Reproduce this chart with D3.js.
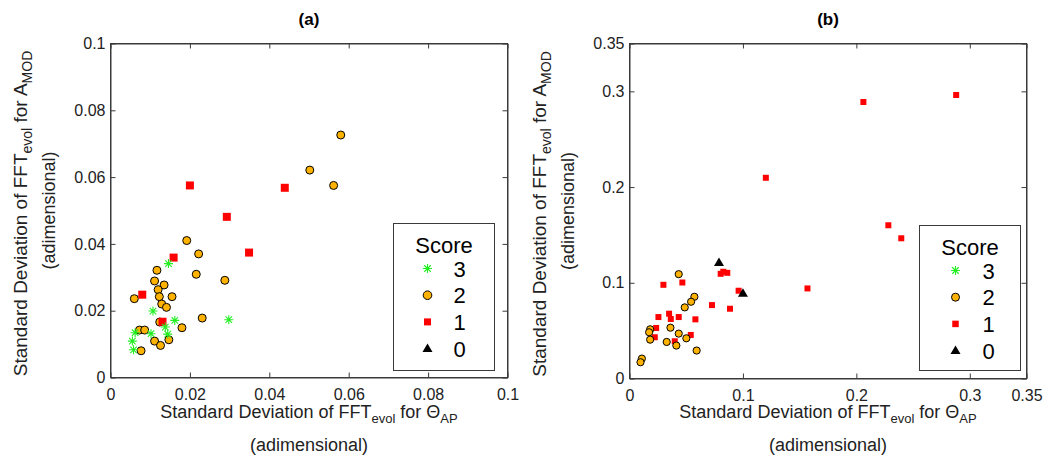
<!DOCTYPE html>
<html>
<head>
<meta charset="utf-8">
<script src="https://cdn.jsdelivr.net/npm/d3@7"></script>
<style>
  html, body { margin: 0; padding: 0; background: #fff; }
  svg { display: block; font-family: Arial, "Liberation Sans", Helvetica, sans-serif; }
</style>
</head>
<body>
<svg id="chart" width="1049" height="459"></svg>
<script>
// ---------------- DATA ----------------
// Panel (a)
const aTicks = [0, 0.02, 0.04, 0.06, 0.08, 0.1];
const aTickLabels = ["0", "0.02", "0.04", "0.06", "0.08", "0.1"];
const aScore3 = [[0.0146,0.0341],[0.0107,0.0199],[0.0162,0.0171],[0.0298,0.0173],[0.0138,0.0151],
                 [0.0062,0.0134],[0.0102,0.0131],[0.0144,0.0130],[0.0055,0.0109],[0.0058,0.0083]];
const aScore2 = [[0.0580,0.0726],[0.0502,0.0621],[0.0562,0.0575],[0.0192,0.0410],[0.0222,0.0370],
                 [0.0216,0.0309],[0.0288,0.0291],[0.0117,0.0321],[0.0111,0.0289],[0.0135,0.0277],
                 [0.0120,0.0263],[0.0123,0.0242],[0.0155,0.0242],[0.0060,0.0236],[0.0129,0.0220],
                 [0.0141,0.0210],[0.0231,0.0178],[0.0180,0.0149],[0.0073,0.0142],[0.0086,0.0142],
                 [0.0124,0.0166],[0.0111,0.0109],[0.0126,0.0096],[0.0147,0.0113],[0.0077,0.0080]];
const aScore1 = [[0.0200,0.0575],[0.0439,0.0568],[0.0293,0.0481],[0.0349,0.0374],[0.0159,0.0359],
                 [0.0080,0.0248],[0.0131,0.0167]];
const aScore0 = [];

// Panel (b)
const bTicks = [0, 0.1, 0.2, 0.3, 0.35];
const bTickLabels = ["0", "0.1", "0.2", "0.3", "0.35"];
const bScore3 = [];
const bScore2 = [[0.0434,0.1090],[0.0572,0.0854],[0.0543,0.0802],[0.0487,0.0743],[0.0361,0.0531],
                 [0.0434,0.0469],[0.0501,0.0420],[0.0328,0.0382],[0.0413,0.0344],[0.0592,0.0292],
                 [0.0182,0.0514],[0.0173,0.0483],[0.0182,0.0406],[0.0109,0.0208],[0.0097,0.0170]];
const bScore1 = [[0.2062,0.2889],[0.2880,0.2962],[0.1202,0.2097],[0.2282,0.1601],[0.2396,0.1465],
                 [0.1569,0.0941],[0.0299,0.0979],[0.0466,0.1003],[0.0804,0.1094],[0.0827,0.1115],
                 [0.0862,0.1104],[0.0962,0.0917],[0.0727,0.0767],[0.0886,0.0729],[0.0255,0.0642],
                 [0.0349,0.0677],[0.0364,0.0622],[0.0434,0.0642],[0.0581,0.0618],[0.0235,0.0528],
                 [0.0223,0.0431],[0.0540,0.0455],[0.0399,0.0389]];
const bScore0 = [[0.0789,0.1212],[0.1000,0.0889]];

const legendTitle = "Score";
const legendLabels = ["3", "2", "1", "0"];
const panelTitles = ["(a)", "(b)"];

// ---------------- STYLE ----------------
const C = { star: "#22ee22", circle: "#FFB300", square: "#FF0000", tri: "#000000",
            axis: "#3a3a3a", text: "#222222" };

const svg = d3.select("#chart");

function starPath(r) {
  const d = r * 0.72;
  return `M${-r},0L${r},0M0,${-r}L0,${r}M${-d},${-d}L${d},${d}M${-d},${d}L${d},${-d}`;
}
function triPath(w, h) {
  return `M0,${-h * 0.6}L${w / 2},${h * 0.4}L${-w / 2},${h * 0.4}Z`;
}

function drawMarks(g, type, data, x, y, sz) {
  const sel = g.append("g").selectAll("path").data(data).join("path")
    .attr("transform", d => `translate(${x(d[0])},${y(d[1])})`);
  styleMark(sel, type, sz);
}
function styleMark(sel, type, sz) {
  if (type === "star") {
    sel.attr("d", starPath(sz.star)).attr("fill", "none").attr("stroke", C.star).attr("stroke-width", 1.1);
  } else if (type === "circle") {
    sel.attr("d", d3.symbol().type(d3.symbolCircle).size(Math.PI * sz.circle * sz.circle)())
      .attr("fill", C.circle).attr("stroke", "#000").attr("stroke-width", 1);
  } else if (type === "square") {
    sel.attr("d", d3.symbol().type(d3.symbolSquare).size(sz.square * sz.square)())
      .attr("fill", C.square).attr("stroke", "none");
  } else {
    sel.attr("d", triPath(sz.tri, sz.tri * 0.85)).attr("fill", C.tri).attr("stroke", "none");
  }
}

function panel(cfg) {
  const x = d3.scaleLinear().domain(cfg.domain).range([cfg.left, cfg.right]);
  const y = d3.scaleLinear().domain(cfg.domain).range([cfg.bottom, cfg.top]);
  const g = svg.append("g");
  const fmt = (d) => cfg.labels[cfg.ticks.indexOf(d)];

  // white plot background + box
  g.append("rect").attr("x", cfg.left).attr("y", cfg.top)
    .attr("width", cfg.right - cfg.left).attr("height", cfg.bottom - cfg.top)
    .attr("fill", "#fff").attr("stroke", C.axis).attr("stroke-width", 1);

  const tl = 5;
  const axB = g.append("g").attr("transform", `translate(0,${cfg.bottom})`)
    .call(d3.axisBottom(x).tickValues(cfg.ticks).tickFormat(fmt).tickSizeInner(-tl).tickSizeOuter(0).tickPadding(11));
  const axL = g.append("g").attr("transform", `translate(${cfg.left},0)`)
    .call(d3.axisLeft(y).tickValues(cfg.ticks).tickFormat(fmt).tickSizeInner(-tl).tickSizeOuter(0).tickPadding(5));
  const axT = g.append("g").attr("transform", `translate(0,${cfg.top})`)
    .call(d3.axisTop(x).tickValues(cfg.ticks).tickFormat("").tickSizeInner(-tl).tickSizeOuter(0));
  const axR = g.append("g").attr("transform", `translate(${cfg.right},0)`)
    .call(d3.axisRight(y).tickValues(cfg.ticks).tickFormat("").tickSizeInner(-tl).tickSizeOuter(0));
  [axB, axL, axT, axR].forEach(a => {
    a.select(".domain").attr("stroke", C.axis);
    a.selectAll(".tick line").attr("stroke", C.axis);
    a.selectAll("text").attr("fill", C.text).style("font-size", "16px")
      .style("font-family", "Arial, 'Liberation Sans', sans-serif");
  });

  // marks
  cfg.order.forEach(([type, data]) => drawMarks(g, type, data, x, y, cfg.sz));

  // title
  const cx = (cfg.left + cfg.right) / 2;
  g.append("text").attr("x", cx).attr("y", 25).attr("text-anchor", "middle")
    .attr("font-weight", "bold").attr("font-size", 17).attr("fill", "#000").text(cfg.title);

  // x label
  const xl = g.append("text").attr("x", cx).attr("y", 418).attr("text-anchor", "middle")
    .attr("font-size", 18).attr("fill", C.text);
  xl.append("tspan").text("Standard Deviation of FFT");
  xl.append("tspan").attr("dy", 5).attr("font-size", 13).text("evol");
  xl.append("tspan").attr("dy", -5).text(" for \u0398");
  xl.append("tspan").attr("dy", 5).attr("font-size", 13).text("AP");
  g.append("text").attr("x", cx).attr("y", 451).attr("text-anchor", "middle")
    .attr("font-size", 18).attr("fill", C.text).text("(adimensional)");

  // y label
  const cy = (cfg.top + cfg.bottom) / 2 + 3;
  const yl = g.append("text").attr("transform", `translate(${cfg.left - 84},${cy}) rotate(-90)`)
    .attr("text-anchor", "middle").attr("font-size", 19).attr("fill", C.text);
  yl.append("tspan").text("Standard Deviation of FFT");
  yl.append("tspan").attr("dy", 5).attr("font-size", 14).text("evol");
  yl.append("tspan").attr("dy", -5).text(" for A");
  yl.append("tspan").attr("dy", 5).attr("font-size", 14).text("MOD");
  g.append("text").attr("transform", `translate(${cfg.left - 56},${(cfg.top + cfg.bottom) / 2}) rotate(-90)`)
    .attr("text-anchor", "middle").attr("font-size", 18).attr("fill", C.text).text("(adimensional)");

  // legend
  const L = cfg.legend;
  const lg = g.append("g");
  lg.append("rect").attr("x", L.x).attr("y", L.y).attr("width", L.w).attr("height", L.h)
    .attr("fill", "#fff").attr("stroke", C.axis).attr("stroke-width", 1);
  lg.append("text").attr("x", L.x + L.w / 2).attr("y", L.y + 29).attr("text-anchor", "middle")
    .attr("font-size", 22).attr("fill", "#000").text(legendTitle);
  const types = ["star", "circle", "square", "tri"];
  legendLabels.forEach((lab, i) => {
    const ry = L.y + 45 + i * 26.7;
    const m = lg.append("path").attr("transform", `translate(${L.x + L.sx},${ry})`);
    styleMark(m, types[i], cfg.lsz);
    lg.append("text").attr("x", L.x + L.nx).attr("y", ry + 8).attr("text-anchor", "middle")
      .attr("font-size", 22).attr("fill", "#000").text(lab);
  });
}

panel({
  left: 110.5, right: 507.5, top: 43.5, bottom: 377.5,
  domain: [0, 0.1], ticks: aTicks, labels: aTickLabels, title: panelTitles[0],
  sz: { star: 4.5, circle: 4, square: 8, tri: 10 },
  lsz: { star: 4.5, circle: 4.3, square: 7, tri: 10 },
  order: [["circle", aScore2], ["square", aScore1], ["star", aScore3], ["tri", aScore0]],
  legend: { x: 393.5, y: 223.5, w: 101, h: 147, sx: 34, nx: 66 }
});
panel({
  left: 629.5, right: 1026.5, top: 43.5, bottom: 378.5,
  domain: [0, 0.35], ticks: bTicks, labels: bTickLabels, title: panelTitles[1],
  sz: { star: 4.5, circle: 3.6, square: 6, tri: 10 },
  lsz: { star: 4.5, circle: 4, square: 6.5, tri: 10 },
  order: [["star", bScore3], ["square", bScore1], ["circle", bScore2], ["tri", bScore0]],
  legend: { x: 919.5, y: 225.5, w: 101, h: 145, sx: 36, nx: 69 }
});
</script>
</body>
</html>
